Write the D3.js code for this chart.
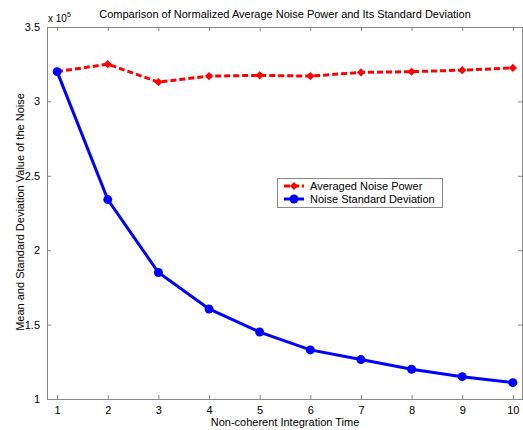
<!DOCTYPE html>
<html>
<head>
<meta charset="utf-8">
<script src="https://cdn.jsdelivr.net/npm/d3@7"></script>
<style>
  body { margin: 0; background: #fff; }
  text { font-family: "Liberation Sans", Arial, sans-serif; fill: #000; }
</style>
</head>
<body>
<div id="plot"></div>
<script>
// integration times
var times = [1, 2, 3, 4, 5, 6, 7, 8, 9, 10];
// values in units of 1e5
var avgPower = [3.20, 3.25, 3.13, 3.17, 3.175, 3.17, 3.195, 3.20, 3.21, 3.225];
var stdDev = [3.20, 2.34, 1.85, 1.605, 1.45, 1.33, 1.265, 1.20, 1.15, 1.11];
var xTicks = [1, 2, 3, 4, 5, 6, 7, 8, 9, 10];
var yTicks = [1, 1.5, 2, 2.5, 3, 3.5];

var width = 523, height = 430;
// plot box edges (note: "top" is reserved on window)
var boxLeft = 47, boxRight = 522, boxTop = 27, boxBottom = 399;

var svg = d3.select("#plot").append("svg").attr("width", width).attr("height", height);

var xScale = d3.scaleLinear().domain([0.8, 10.2]).range([boxLeft, boxRight + 1]);
var yScale = d3.scaleLinear().domain([1, 3.5]).range([boxBottom, boxTop]);

// axes (matlab style box, ticks inward)
var axisColor = "#888";
svg.append("g").attr("transform", "translate(0," + boxBottom + ")")
    .call(d3.axisBottom(xScale).tickValues(xTicks).tickSizeInner(-4).tickSizeOuter(0).tickPadding(7).tickFormat(d3.format("d")));
svg.append("g").attr("transform", "translate(0," + boxTop + ")")
    .call(d3.axisTop(xScale).tickValues(xTicks).tickSizeInner(-4).tickSizeOuter(0).tickFormat(""));
svg.append("g").attr("transform", "translate(" + boxLeft + ",0)")
    .call(d3.axisLeft(yScale).tickValues(yTicks).tickSizeInner(-4).tickSizeOuter(0).tickPadding(7).tickFormat(function(d) { return d; }));
svg.append("g").attr("transform", "translate(" + boxRight + ",0)")
    .call(d3.axisRight(yScale).tickValues(yTicks).tickSizeInner(-4).tickSizeOuter(0).tickFormat(""));

svg.selectAll(".domain, .tick line").attr("stroke", axisColor);
svg.selectAll(".tick text").attr("font-size", 11).attr("font-family", "Liberation Sans, Arial, sans-serif").attr("fill", "#000");

// exponent label
var expo = svg.append("text").attr("x", 48).attr("y", 22).attr("font-size", 10);
expo.append("tspan").text("x 10");
expo.append("tspan").attr("font-size", 7).attr("dy", -5).text("5");

// title and axis labels
svg.append("text").attr("x", 285).attr("y", 18).attr("text-anchor", "middle").attr("font-size", 11)
    .text("Comparison of Normalized Average Noise Power and Its Standard Deviation");
svg.append("text").attr("x", 285).attr("y", 426).attr("text-anchor", "middle").attr("font-size", 11)
    .text("Non-coherent Integration Time");
svg.append("text").attr("transform", "translate(24,212) rotate(-90)").attr("text-anchor", "middle").attr("font-size", 11)
    .text("Mean and Standard Deviation Value of the Noise");

var line = d3.line()
    .x(function(d, i) { return xScale(times[i]); })
    .y(function(d) { return yScale(d); });

var red = "#ff0000", blue = "#0000ff";
// matlab diamond = square turned 45 degrees
var diamond = d3.symbol().type(d3.symbolSquare).size(34);

// averaged noise power
svg.append("path").datum(avgPower).attr("d", line)
    .attr("fill", "none").attr("stroke", red).attr("stroke-width", 3).attr("stroke-dasharray", "6,3");
svg.append("g").selectAll("path").data(avgPower).enter().append("path")
    .attr("d", diamond)
    .attr("transform", function(d, i) { return "translate(" + xScale(times[i]) + "," + yScale(d) + ") rotate(45)"; })
    .attr("fill", red);

// noise standard deviation
svg.append("path").datum(stdDev).attr("d", line)
    .attr("fill", "none").attr("stroke", blue).attr("stroke-width", 3);
svg.append("g").selectAll("circle").data(stdDev).enter().append("circle")
    .attr("cx", function(d, i) { return xScale(times[i]); })
    .attr("cy", function(d) { return yScale(d); })
    .attr("r", 4.5)
    .attr("fill", blue);

// legend
var legend = svg.append("g");
legend.append("rect").attr("x", 277.5).attr("y", 178.5).attr("width", 165).attr("height", 29)
    .attr("fill", "#fff").attr("stroke", axisColor);
legend.append("line").attr("x1", 284).attr("x2", 304).attr("y1", 186).attr("y2", 186)
    .attr("stroke", red).attr("stroke-width", 3).attr("stroke-dasharray", "6,3");
legend.append("path").attr("d", diamond).attr("transform", "translate(294,186) rotate(45)").attr("fill", red);
legend.append("text").attr("x", 310).attr("y", 190).attr("font-size", 11).text("Averaged Noise Power");
legend.append("line").attr("x1", 284).attr("x2", 304).attr("y1", 199).attr("y2", 199)
    .attr("stroke", blue).attr("stroke-width", 3);
legend.append("circle").attr("cx", 294).attr("cy", 199).attr("r", 4.5).attr("fill", blue);
legend.append("text").attr("x", 310).attr("y", 203).attr("font-size", 11).text("Noise Standard Deviation");
</script>
</body>
</html>
